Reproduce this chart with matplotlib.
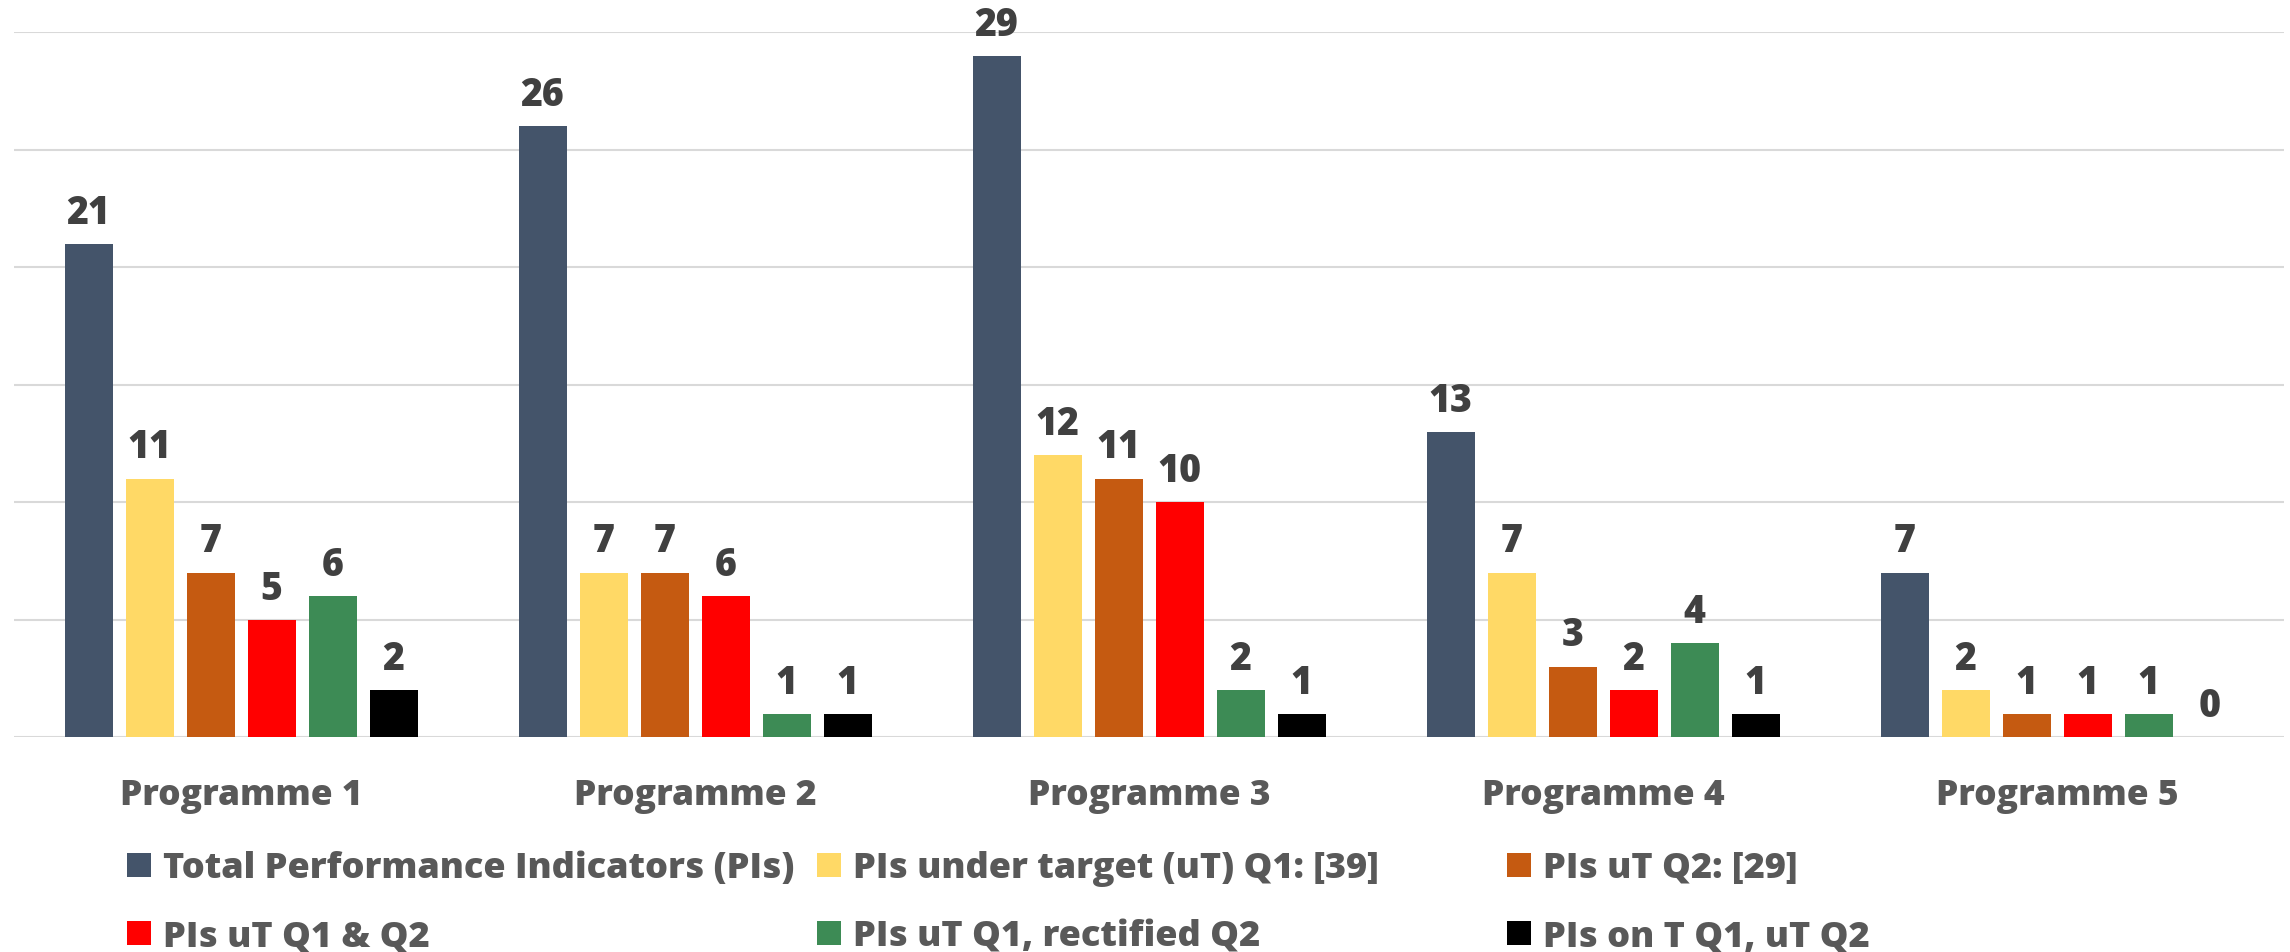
import matplotlib
matplotlib.use("Agg")
import matplotlib.pyplot as plt
from matplotlib.patches import Rectangle
import numpy as np

programmes = ["Programme 1", "Programme 2", "Programme 3", "Programme 4", "Programme 5"]
series_names = [
    "Total Performance Indicators (PIs)",
    "PIs under target (uT) Q1: [39]",
    "PIs uT Q2: [29]",
    "PIs uT Q1 & Q2",
    "PIs uT Q1, rectified Q2",
    "PIs on T Q1, uT Q2",
]
total_pis = [21, 26, 29, 13, 7]
under_q1 = [11, 7, 12, 7, 2]
under_q2 = [7, 7, 11, 3, 1]
under_q1_q2 = [5, 6, 10, 2, 1]
rectified_q2 = [6, 1, 2, 4, 1]
on_q1_under_q2 = [2, 1, 1, 1, 0]
series_values = [total_pis, under_q1, under_q2, under_q1_q2, rectified_q2, on_q1_under_q2]
colors = ["#44546A", "#FFD966", "#C55A11", "#FF0000", "#3D8B55", "#000000"]

FONT = "Open Sans"
WEIGHT = 800
W, H = 2290, 952
fig = plt.figure(figsize=(W / 100, H / 100), dpi=100)
fig.patch.set_facecolor("white")

# plot area in pixels
left_px, right_px, bottom_px, top_px = 14, 2284, 737, 32
ax = fig.add_axes([left_px / W, 1 - bottom_px / H,
                   (right_px - left_px) / W, (bottom_px - top_px) / H])
ax.set_xlim(-0.5, len(programmes) - 0.5)
ax.set_ylim(0, 30)
for s in ax.spines.values():
    s.set_visible(False)
ax.set_yticks(np.arange(0, 31, 5))
ax.yaxis.grid(True, color="#D9D9D9", linewidth=1.5)
ax.set_axisbelow(True)
ax.tick_params(axis="y", left=False, labelleft=False)

x = np.arange(len(programmes))
pitch = 61 / 454
bar_w = 48 / 454
for j, (vals, col) in enumerate(zip(series_values, colors)):
    xs = x + (j - 2.5) * pitch
    ax.bar(xs, vals, width=bar_w, color=col, zorder=3)
    for xi, v in zip(xs, vals):
        ax.annotate(str(v), xy=(xi, v), xytext=(0, 14.4), textcoords="offset points",
                    ha="center", va="baseline", fontsize=27, fontweight=WEIGHT,
                    family=FONT, color="#404040", annotation_clip=False)

ax.set_xticks(x)
ax.set_xticklabels(programmes, fontsize=25.5, fontweight=WEIGHT, family=FONT,
                   color="#595959", va="baseline")
ax.tick_params(axis="x", length=0, pad=49)

# legend laid out in three equal columns, two rows
col_left = [127, 817, 1507]
row_center = [865, 933]
sq = 24
for k, (name, col) in enumerate(zip(series_names, colors)):
    r, c = divmod(k, 3)
    xl = col_left[c]
    yc = row_center[r]
    fig.add_artist(Rectangle((xl / W, 1 - (yc + sq / 2) / H), sq / W, sq / H,
                             transform=fig.transFigure, facecolor=col, edgecolor="none"))
    fig.text((xl + 36) / W, 1 - (yc + 13) / H, name, ha="left", va="baseline",
             fontsize=26, fontweight=WEIGHT, family=FONT, color="#595959")

fig.savefig("out.png", dpi=100, facecolor="white")
